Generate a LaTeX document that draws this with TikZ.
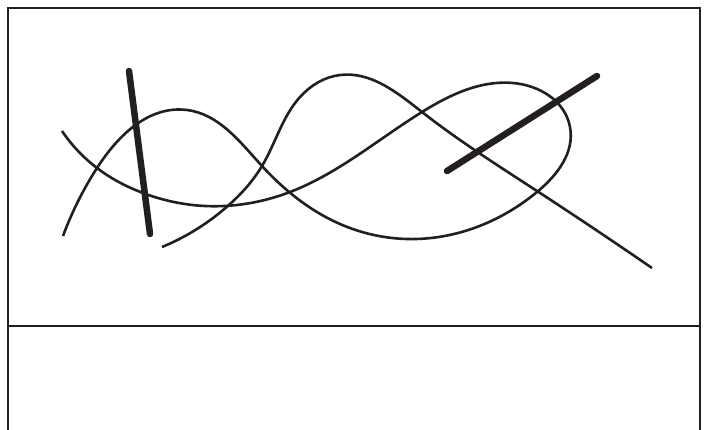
\documentclass[tikz,border=0pt]{standalone}
\usetikzlibrary{hobby}
\definecolor{ink}{RGB}{35,31,32}
\begin{document}
\begin{tikzpicture}[x=1pt,y=-1pt,use Hobby shortcut,
  frame/.style={draw=ink,line width=1.6pt},
  thin curve/.style={draw=ink,line width=2.6pt,line cap=butt},
  bar/.style={draw=ink,line width=6.5pt,line cap=round}]
\useasboundingbox (0,0) rectangle (710,429);
\fill[white] (0,0) rectangle (710,429);
% frame
\draw[frame] (8,432) -- (8,8) -- (700,8) -- (700,432);
\draw[frame] (8,326) -- (700,326);
% long looping curve
\draw[thin curve] (62,131) .. (97,168) .. (143,193) .. (205,206) .. (290,192)
  .. (422,112) .. (513,83) .. (570,127) .. (537,192) .. (407,239)
  .. (340,224) .. (262,166) .. (187,110) .. (97,168) .. (63,236);
% second curve
\draw[thin curve] (162,247) .. (230,204) .. (262,166) .. (300,97) .. (340,75)
  .. (422,112) .. (537,191) .. (652,268);
% thick bars
\draw[bar] (129,71) -- (150,234);
\draw[bar] (447,171) -- (597,76);
\end{tikzpicture}
\end{document}
